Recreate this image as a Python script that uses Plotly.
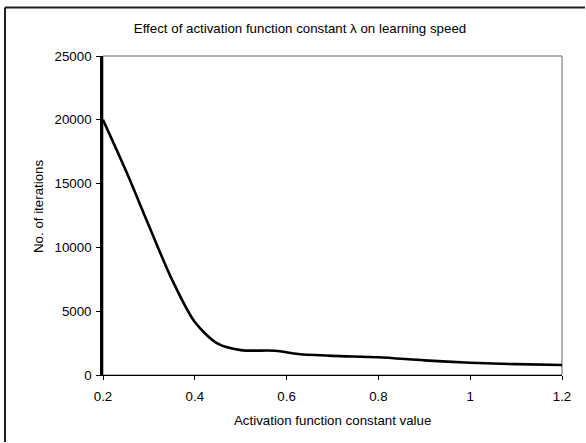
import plotly.graph_objects as go

# Data
lambda_values = [0.2, 0.25, 0.3, 0.35, 0.4, 0.45, 0.5, 0.575, 0.625, 0.7, 0.8, 0.9, 1.0, 1.1, 1.2]
iterations = [20000, 16000, 11700, 7500, 4150, 2450, 1950, 1900, 1650, 1500, 1390, 1150, 960, 850, 780]

x_ticks = [0.2, 0.4, 0.6, 0.8, 1.0, 1.2]
x_tick_labels = ["0.2", "0.4", "0.6", "0.8", "1", "1.2"]
y_ticks = [0, 5000, 10000, 15000, 20000, 25000]
y_tick_labels = ["0", "5000", "10000", "15000", "20000", "25000"]

FONT = "Liberation Sans, Arial, sans-serif"
FS = 13.3

W, H = 586, 443
L, R, T, B = 103, 562, 56, 375   # plot area in pixels
PW, PH = R - L, B - T

fig = go.Figure()
fig.add_trace(go.Scatter(
    x=lambda_values, y=iterations, mode="lines",
    line=dict(color="black", width=2.6, shape="spline", smoothing=0.8),
    showlegend=False, hoverinfo="skip",
))

frame_x = (5 - L) / PW
frame_top = (B - 7.5) / PH

fig.update_layout(
    width=W, height=H,
    margin=dict(l=L, r=W - R, t=T, b=H - B, autoexpand=False),
    paper_bgcolor="white", plot_bgcolor="white",
    font=dict(family=FONT, size=FS, color="black"),
    title=dict(text="Effect of activation function constant λ on learning speed",
               x=300 / W, xanchor="center", xref="container",
               y=1 - 28 / H, yanchor="middle", font=dict(size=FS)),
    xaxis=dict(range=[0.2, 1.2], tickvals=x_ticks, ticktext=x_tick_labels,
               showgrid=False, zeroline=False, showline=True, linecolor="black", linewidth=1,
               ticks="outside", ticklen=4, tickcolor="black", ticklabelstandoff=5,
               automargin=False),
    yaxis=dict(range=[0, 25000], tickvals=y_ticks, ticktext=y_tick_labels,
               showgrid=False, zeroline=False, showline=True, linecolor="black", linewidth=2.6,
               ticks="outside", ticklen=4, tickcolor="black", ticklabelstandoff=2,
               automargin=False),
    annotations=[
        dict(text="Activation function constant value", xref="paper", yref="paper",
             x=(332 - L) / PW, y=(B - 420) / PH, xanchor="center", yanchor="middle",
             showarrow=False, font=dict(size=FS)),
        dict(text="No. of iterations", xref="paper", yref="paper",
             x=(38 - L) / PW, y=(B - 207) / PH, xanchor="center", yanchor="middle",
             textangle=-90, showarrow=False, font=dict(size=FS)),
    ],
    shapes=[
        dict(type="rect", xref="paper", yref="paper", x0=0, x1=1, y0=0, y1=1,
             line=dict(color="#666666", width=1), layer="below"),
        dict(type="line", xref="paper", yref="paper",
             x0=frame_x, x1=(W - 1 - L) / PW, y0=frame_top, y1=frame_top,
             line=dict(color="#202020", width=2), layer="above"),
        dict(type="line", xref="paper", yref="paper",
             x0=frame_x, x1=frame_x, y0=(B - (H - 1)) / PH, y1=frame_top,
             line=dict(color="#202020", width=2), layer="above"),
    ],
)

fig.write_html("out.html", config={"displayModeBar": False},
               post_script="document.body.style.margin='0';")
